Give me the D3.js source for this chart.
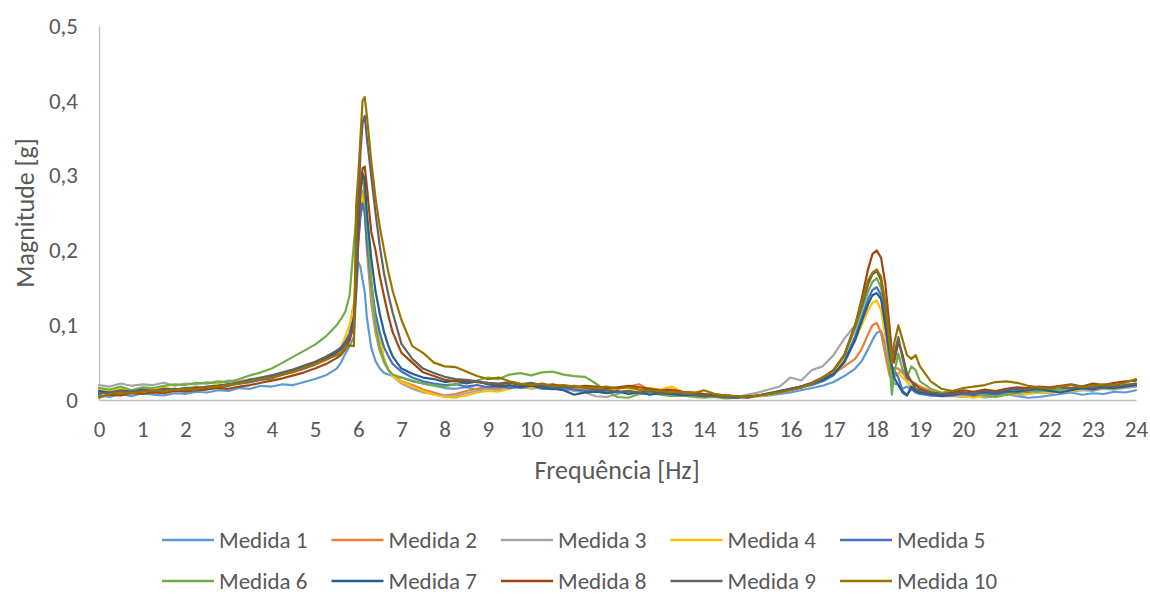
<!DOCTYPE html>
<html>
<head>
<meta charset="utf-8">
<script src="https://cdn.jsdelivr.net/npm/d3@7"></script>
<style>
  body { margin: 0; background: #fff; }
  svg { display: block; font-family: Carlito, Calibri, Lato, sans-serif; }
  .tick text { fill: #595959; font-size: 23px; }
  .title { fill: #595959; font-size: 26px; }
  .legend text { fill: #595959; font-size: 23px; }
</style>
</head>
<body>
<svg width="1150" height="594"></svg>
<script>
// frequencies [Hz] shared by all series (denser near the two peaks)
const freqHz = [
  0, 0.25, 0.5, 0.75, 1, 1.25, 1.5, 1.75, 2, 2.25, 2.5, 2.75, 3, 3.25, 3.5, 3.75, 4, 4.25, 4.5, 4.75, 5, 5.25, 5.5,
  5.6, 5.7, 5.8, 5.9, 5.95, 6, 6.05, 6.1, 6.15, 6.2, 6.3, 6.4, 6.5, 6.6, 6.7, 6.8, 7,
  7.25, 7.5, 7.75, 8, 8.25, 8.5, 8.75, 9, 9.25, 9.5,
  9.75, 10, 10.25, 10.5, 10.75, 11, 11.25, 11.5, 11.75, 12,
  12.25, 12.5, 12.75, 13, 13.25, 13.5, 13.75, 14, 14.25, 14.5,
  14.75, 15, 15.25, 15.5, 15.75, 16, 16.25, 16.5, 16.75, 17,
  17.25, 17.5, 17.65, 17.8, 17.9, 18, 18.1, 18.2, 18.3, 18.35, 18.4, 18.5, 18.6, 18.7, 18.8, 18.9, 19, 19.25, 19.5,
  19.75, 20, 20.25, 20.5, 20.75, 21, 21.25, 21.5, 21.75, 22, 22.25, 22.5, 22.75, 23, 23.25, 23.5, 23.75, 24
];

const medida1 = [
  .006, .004, .008, .005, .009, .007, .006, .009, .008, .011, .010, .013, .012, .016, .015, .019, .018, .021, .020, .024, .028, .033, .042,
  .050, .062, .072, .085, .140, .185, .178, .160, .145, .110, .070, .052, .042, .036, .034, .032, .030,
  .026, .022, .019, .016, .015, .017, .014, .016, .015, .018,
  .016, .017, .015, .016, .014, .013, .014, .012, .010, .011,
  .009, .010, .008, .009, .007, .008, .006, .005, .006, .004,
  .005, .003, .005, .006, .008, .010, .013, .016, .019, .024,
  .032, .042, .052, .068, .080, .090, .092, .075, .040, .031, .022, .020, .015, .018, .014, .012, .010, .008, .007,
  .006, .005, .007, .004, .006, .008, .005, .003, .004, .006, .008, .010, .007, .009, .008, .011, .010, .013
];
const medida2 = [
  .010, .012, .009, .013, .011, .014, .012, .015, .014, .017, .016, .020, .019, .023, .024, .028, .030, .035, .037, .042, .047, .053, .062,
  .065, .075, .088, .110, .150, .210, .250, .270, .255, .200, .130, .090, .065, .050, .040, .033, .025,
  .020, .014, .010, .006, .008, .012, .015, .018, .016, .019,
  .017, .020, .018, .016, .015, .017, .014, .015, .013, .016,
  .018, .021, .013, .011, .012, .009, .010, .008, .006, .007,
  .005, .004, .006, .008, .011, .014, .018, .022, .028, .035,
  .045, .055, .068, .088, .100, .103, .090, .060, .032, .040, .043, .042, .036, .030, .025, .022, .018, .012, .008,
  .007, .006, .004, .008, .006, .009, .011, .010, .012, .014, .013, .015, .014, .016, .015, .017, .019, .020
];
const medida3 = [
  .020, .018, .022, .019, .021, .020, .023, .019, .022, .021, .024, .022, .026, .025, .028, .030, .033, .035, .038, .043, .048, .055, .065,
  .070, .078, .090, .115, .160, .220, .260, .280, .265, .215, .140, .095, .068, .050, .040, .032, .022,
  .015, .010, .008, .006, .005, .009, .012, .015, .013, .016,
  .018, .015, .017, .014, .016, .012, .010, .005, .004, .008,
  .011, .009, .012, .008, .006, .009, .007, .005, .008, .006,
  .004, .007, .010, .014, .018, .030, .026, .040, .045, .060,
  .082, .100, .125, .155, .170, .175, .160, .120, .070, .045, .030, .036, .040, .025, .016, .012, .010, .006, .005,
  .005, .004, .006, .003, .005, .007, .006, .008, .010, .009, .012, .011, .013, .012, .015, .014, .016, .018
];
const medida4 = [
  .014, .012, .016, .011, .015, .013, .017, .014, .016, .018, .017, .021, .020, .024, .026, .029, .031, .035, .040, .044, .050, .057, .066,
  .070, .085, .100, .130, .170, .230, .265, .275, .250, .210, .160, .110, .085, .055, .040, .032, .024,
  .018, .012, .007, .004, .003, .006, .010, .012, .011, .015,
  .018, .016, .019, .017, .015, .018, .016, .014, .015, .017,
  .015, .013, .016, .014, .018, .011, .008, .007, .005, .006,
  .004, .003, .005, .007, .010, .013, .017, .021, .027, .035,
  .055, .080, .100, .120, .130, .133, .120, .085, .050, .040, .035, .036, .030, .025, .018, .015, .012, .010, .008,
  .006, .005, .003, .006, .004, .007, .009, .008, .011, .010, .013, .012, .014, .016, .015, .017, .018, .020
];
const medida5 = [
  .010, .008, .011, .009, .012, .010, .013, .012, .014, .013, .016, .017, .019, .022, .024, .027, .029, .034, .038, .042, .048, .055, .064,
  .070, .078, .088, .110, .150, .210, .245, .263, .250, .210, .155, .115, .090, .070, .058, .048, .038,
  .030, .025, .022, .020, .021, .018, .020, .017, .019, .016,
  .018, .020, .017, .015, .016, .014, .012, .013, .011, .010,
  .012, .009, .010, .008, .009, .007, .006, .005, .004, .005,
  .003, .004, .006, .008, .011, .014, .017, .020, .025, .033,
  .052, .085, .110, .135, .147, .151, .140, .100, .055, .045, .040, .030, .012, .007, .015, .010, .008, .006, .005,
  .006, .008, .006, .009, .007, .010, .012, .011, .013, .012, .014, .016, .015, .017, .016, .018, .019, .021
];
const medida6 = [
  .016, .014, .018, .013, .017, .016, .019, .021, .020, .023, .022, .025, .024, .028, .033, .037, .042, .050, .058, .066, .074, .085, .100,
  .108, .118, .140, .210, .240, .280, .305, .300, .270, .240, .160, .100, .070, .052, .040, .034, .030,
  .025, .022, .020, .018, .021, .024, .026, .030, .028, .034,
  .036, .033, .037, .038, .034, .032, .031, .022, .012, .004,
  .003, .008, .009, .007, .005, .006, .004, .003, .004, .002,
  .003, .004, .006, .009, .012, .015, .018, .022, .030, .040,
  .060, .095, .120, .145, .158, .163, .150, .120, .045, .007, .035, .062, .040, .030, .045, .040, .025, .015, .010,
  .012, .010, .008, .006, .004, .007, .009, .012, .011, .014, .013, .016, .015, .017, .016, .018, .020, .022
];
const medida7 = [
  .012, .010, .013, .011, .014, .012, .015, .014, .016, .015, .018, .019, .021, .023, .027, .029, .032, .036, .040, .044, .049, .056, .064,
  .068, .075, .085, .110, .160, .230, .280, .303, .295, .250, .190, .145, .115, .090, .072, .058, .042,
  .035, .030, .028, .024, .026, .022, .025, .021, .018, .020,
  .017, .019, .016, .015, .013, .007, .010, .011, .009, .012,
  .008, .010, .007, .009, .008, .006, .007, .005, .006, .004,
  .003, .005, .006, .009, .012, .015, .018, .022, .027, .035,
  .050, .080, .105, .128, .140, .143, .135, .100, .060, .045, .030, .020, .010, .006, .018, .012, .010, .008, .006,
  .007, .010, .008, .011, .009, .012, .011, .013, .015, .012, .010, .013, .016, .014, .017, .016, .018, .020
];
const medida8 = [
  .004, .007, .006, .009, .008, .010, .009, .012, .011, .013, .014, .016, .015, .018, .020, .023, .026, .029, .033, .037, .042, .048, .056,
  .060, .068, .080, .100, .150, .220, .280, .310, .312, .285, .225, .200, .165, .138, .112, .090, .063,
  .050, .037, .032, .027, .025, .026, .024, .022, .021, .023,
  .020, .022, .019, .021, .018, .017, .019, .018, .016, .017,
  .019, .017, .015, .013, .014, .011, .010, .008, .007, .006,
  .005, .004, .006, .008, .011, .014, .018, .023, .030, .040,
  .060, .100, .135, .175, .195, .200, .190, .155, .095, .065, .050, .078, .060, .035, .025, .020, .015, .010, .008,
  .010, .013, .011, .014, .012, .015, .017, .016, .018, .017, .019, .021, .018, .022, .020, .023, .025, .026
];
const medida9 = [
  .008, .010, .012, .011, .013, .012, .014, .015, .014, .017, .016, .019, .021, .024, .026, .030, .033, .037, .041, .046, .051, .058, .066,
  .070, .076, .085, .100, .170, .260, .330, .370, .380, .350, .300, .250, .205, .168, .140, .116, .075,
  .055, .042, .036, .031, .028, .027, .025, .023, .022, .024,
  .021, .023, .020, .018, .017, .019, .016, .014, .013, .011,
  .012, .010, .012, .009, .010, .008, .007, .006, .005, .004,
  .005, .003, .006, .008, .011, .014, .018, .023, .030, .040,
  .060, .100, .125, .155, .168, .172, .160, .120, .075, .052, .060, .084, .055, .030, .025, .015, .012, .010, .008,
  .008, .010, .009, .012, .010, .013, .015, .014, .016, .015, .017, .016, .018, .017, .019, .018, .020, .022
];
const medida10 = [
  .003, .008, .010, .009, .011, .013, .012, .014, .015, .014, .017, .018, .020, .022, .025, .028, .030, .034, .038, .043, .048, .054, .060,
  .062, .070, .073, .072, .260, .300, .350, .400, .405, .380, .320, .270, .231, .200, .170, .145, .107,
  .072, .063, .050, .045, .044, .038, .032, .028, .030, .025,
  .022, .020, .022, .019, .020, .018, .017, .016, .018, .015,
  .017, .014, .013, .012, .010, .011, .009, .013, .008, .006,
  .005, .004, .006, .008, .010, .013, .016, .022, .030, .040,
  .060, .100, .130, .160, .170, .174, .165, .130, .075, .050, .075, .100, .080, .060, .055, .060, .045, .025, .015,
  .012, .016, .018, .020, .024, .025, .023, .019, .017, .015, .018, .020, .017, .019, .021, .020, .023, .028
];

const seriesNames = ['Medida 1', 'Medida 2', 'Medida 3', 'Medida 4', 'Medida 5',
                     'Medida 6', 'Medida 7', 'Medida 8', 'Medida 9', 'Medida 10'];
const seriesValues = [medida1, medida2, medida3, medida4, medida5,
                      medida6, medida7, medida8, medida9, medida10];
const seriesColors = ['#5B9BD5', '#ED7D31', '#A5A5A5', '#FFC000', '#4472C4',
                      '#70AD47', '#255E91', '#9E480E', '#636363', '#997300'];
const xTicks = d3.range(0, 25);
const yTicks = [0, 0.1, 0.2, 0.3, 0.4, 0.5];

seriesValues.forEach((v, i) => {
  if (v.length !== freqHz.length) console.error(seriesNames[i] + ' has ' + v.length + ' values, expected ' + freqHz.length);
});

const svg = d3.select('svg');
const x = d3.scaleLinear().domain([0, 24]).range([99, 1136]);
const y = d3.scaleLinear().domain([0, 0.5]).range([400, 26]);
const ptBR = d3.formatLocale({ decimal: ',', thousands: '.', grouping: [3], currency: ['R$', ''] });
const yFmt = d => d === 0 ? '0' : ptBR.format('.1f')(d);

// axes
const gx = svg.append('g')
  .attr('transform', 'translate(0,400)')
  .call(d3.axisBottom(x).tickValues(xTicks).tickSize(0).tickPadding(21).tickFormat(d3.format('d')));
const gy = svg.append('g')
  .attr('transform', 'translate(99,0)')
  .call(d3.axisLeft(y).tickValues(yTicks).tickSize(0).tickPadding(21).tickFormat(yFmt));
[gx, gy].forEach(g => {
  g.attr('font-family', null).attr('font-size', null);
  g.select('.domain').attr('stroke', '#BFBFBF').attr('stroke-width', 1.3);
});

// lines
const line = d3.line()
  .x((d, i) => x(freqHz[i]))
  .y(d => y(d));

svg.append('g')
  .selectAll('path')
  .data(seriesValues)
  .enter()
  .append('path')
  .attr('d', line)
  .attr('fill', 'none')
  .attr('stroke', (d, i) => seriesColors[i])
  .attr('stroke-width', 2.2)
  .attr('stroke-linejoin', 'round')
  .attr('stroke-linecap', 'round');

// axis titles
svg.append('text')
  .attr('class', 'title')
  .attr('x', 617)
  .attr('y', 479)
  .attr('text-anchor', 'middle')
  .text('Frequência [Hz]');

svg.append('text')
  .attr('class', 'title')
  .attr('transform', 'translate(34,213) rotate(-90)')
  .attr('text-anchor', 'middle')
  .text('Magnitude [g]');

// legend, two rows of five
const legend = svg.append('g').attr('class', 'legend');
const item = legend.selectAll('g')
  .data(seriesNames)
  .enter()
  .append('g')
  .attr('transform', (d, i) => `translate(${162 + (i % 5) * 169.5},${i < 5 ? 540 : 581})`);

item.append('line')
  .attr('x1', 0).attr('x2', 52)
  .attr('stroke', (d, i) => seriesColors[i])
  .attr('stroke-width', 2.5);

item.append('text')
  .attr('x', 57)
  .attr('dy', '0.35em')
  .text(d => d);
</script>
</body>
</html>
